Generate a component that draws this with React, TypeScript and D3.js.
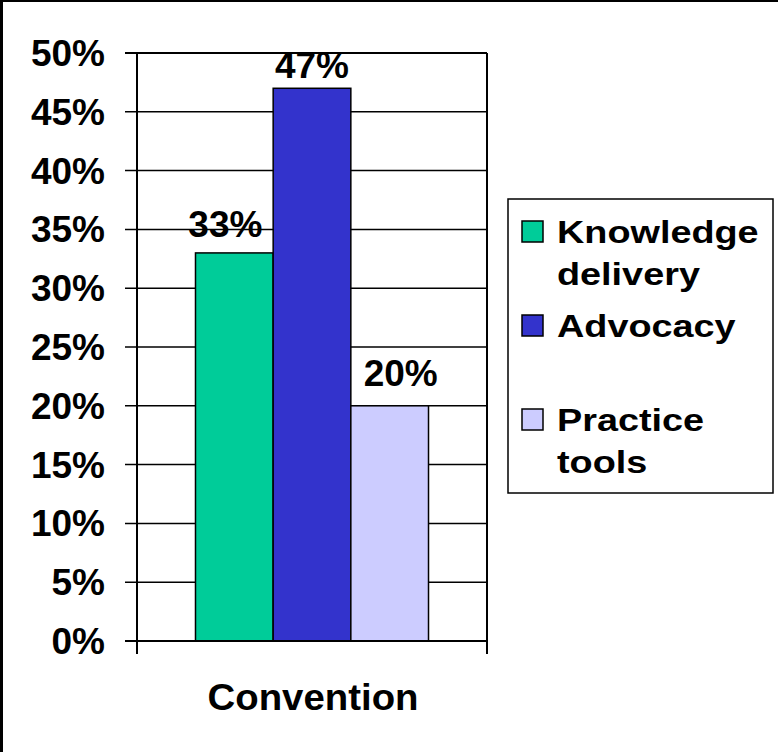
import React from "react";
import * as d3 from "d3";

// chart data
const categories = ["Convention"];
const seriesNames = ["Knowledge delivery", "Advocacy", "Practice tools"];
const seriesValues = [0.33, 0.47, 0.2];
const tickValues = [0, 0.05, 0.1, 0.15, 0.2, 0.25, 0.3, 0.35, 0.4, 0.45, 0.5];
const tickLabels = ["0%", "5%", "10%", "15%", "20%", "25%", "30%", "35%", "40%", "45%", "50%"];
const valueLabels = ["33%", "47%", "20%"];
// legend lines (labels wrap in the original)
const legendLines = [["Knowledge", "delivery"], ["Advocacy"], ["Practice", "tools"]];

const colors = ["#00CC99", "#3333CC", "#CCCCFF"];
// small nudges of the data labels, like the original's manual placement
const labelNudge = [
  { dx: -9, dy: -16 },
  { dx: 0, dy: -10 },
  { dx: 11, dy: -20 },
];

const W = 778;
const H = 752;
const FONT = "Arial, 'Liberation Sans', Helvetica, sans-serif";

export default function App() {
  const plot = { left: 137, right: 487, top: 53, bottom: 641 };

  const y = d3.scaleLinear().domain([0, 0.5]).range([plot.bottom, plot.top]);
  const x0 = d3
    .scaleBand()
    .domain(categories)
    .range([plot.left, plot.right])
    .paddingInner(0)
    .paddingOuter(0.251);
  const x1 = d3
    .scaleBand()
    .domain(seriesNames)
    .range([0, x0.bandwidth()])
    .padding(0);

  const legend = { x: 508, y: 199, w: 265, h: 294 };
  const legendFirstBaseline = 243;
  const legendStep = 94;
  const legendLineGap = 42;

  return (
    <svg
      width={W}
      height={H}
      style={{ position: "absolute", left: 0, top: 0, background: "#fff" }}
      fontFamily={FONT}
      fontWeight="bold"
    >
      <rect x={0} y={0} width={W} height={H} fill="#fff" />
      {/* frame edges of the original image */}
      <rect x={0} y={0} width={W} height={2} fill="#000" />
      <rect x={0} y={0} width={3} height={H} fill="#000" />

      {/* gridlines */}
      {tickValues.map((t, i) => (
        <line
          key={"g" + i}
          x1={plot.left - 12}
          x2={plot.right}
          y1={y(t)}
          y2={y(t)}
          stroke="#000"
          strokeWidth={i === tickValues.length - 1 || i === 0 ? 2 : 1.5}
        />
      ))}

      {/* bars */}
      {categories.map((c) => (
        <g key={c} transform={`translate(${x0(c)},0)`}>
          {seriesNames.map((s, i) => (
            <rect
              key={s}
              x={x1(s)}
              y={y(seriesValues[i])}
              width={x1.bandwidth()}
              height={y(0) - y(seriesValues[i])}
              fill={colors[i]}
              stroke="#000"
              strokeWidth={1.5}
            />
          ))}
          {seriesNames.map((s, i) => (
            <text
              key={"l" + s}
              x={(x1(s) || 0) + x1.bandwidth() / 2 + labelNudge[i].dx}
              y={y(seriesValues[i]) + labelNudge[i].dy}
              textAnchor="middle"
              fontSize={37}
              fill="#000"
            >
              {valueLabels[i]}
            </text>
          ))}
        </g>
      ))}

      {/* axes */}
      <line x1={plot.left} x2={plot.left} y1={plot.top} y2={plot.bottom + 13} stroke="#000" strokeWidth={2} />
      <line x1={plot.right} x2={plot.right} y1={plot.top} y2={plot.bottom + 13} stroke="#000" strokeWidth={2} />
      <line x1={plot.left - 12} x2={plot.right} y1={plot.bottom} y2={plot.bottom} stroke="#000" strokeWidth={2} />

      {tickValues.map((t, i) => (
        <text
          key={"t" + i}
          x={105}
          y={y(t)}
          dy="0.35em"
          textAnchor="end"
          fontSize={37}
          fill="#000"
        >
          {tickLabels[i]}
        </text>
      ))}

      {categories.map((c) => (
        <text
          key={"c" + c}
          x={(x0(c) || 0) + x0.bandwidth() / 2 + 1}
          y={710}
          textAnchor="middle"
          fontSize={36}
          fill="#000"
          textLength={211}
          lengthAdjust="spacingAndGlyphs"
        >
          {c}
        </text>
      ))}

      {/* legend */}
      <rect
        x={legend.x}
        y={legend.y}
        width={legend.w}
        height={legend.h}
        fill="#fff"
        stroke="#000"
        strokeWidth={1.5}
      />
      {seriesNames.map((s, i) => {
        const base = legendFirstBaseline + i * legendStep;
        return (
          <g key={"lg" + s}>
            <rect
              x={522}
              y={base - 22}
              width={21}
              height={21}
              fill={colors[i]}
              stroke="#000"
              strokeWidth={1.5}
            />
            {legendLines[i].map((line, j) => (
              <text
                key={j}
                transform={`translate(557,${base + j * legendLineGap}) scale(1.22,1)`}
                fontSize={31}
                fill="#000"
              >
                {line}
              </text>
            ))}
          </g>
        );
      })}
    </svg>
  );
}
